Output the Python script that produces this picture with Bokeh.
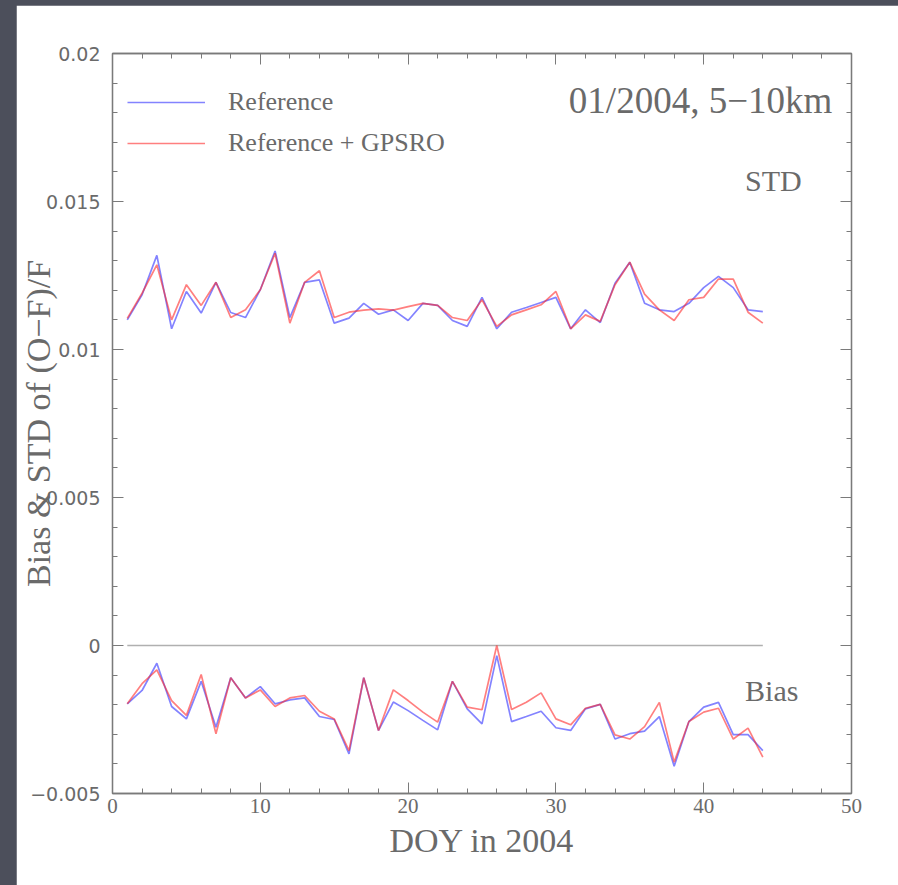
from bokeh.embed import file_html
from bokeh.layouts import column
from bokeh.models import (CustomJSTickFormatter, FixedTicker, Label, Legend,
                          LegendItem, LinearAxis, Range1d)
from bokeh.plotting import figure
from bokeh.resources import INLINE

# Day of year (January 2004)
days = list(range(1, 45))

# STD of (O-F)/F, 5-10 km
std_reference = [
    0.01100, 0.01185, 0.01318, 0.01070, 0.01196, 0.01123, 0.01227, 0.01125,
    0.01108, 0.01202, 0.01333, 0.01108, 0.01227, 0.01235, 0.01089, 0.01106,
    0.01156, 0.01119, 0.01134, 0.01098, 0.01156, 0.01149, 0.01098, 0.01078,
    0.01176, 0.01070, 0.01126, 0.01142, 0.01159, 0.01176, 0.01070, 0.01134,
    0.01091, 0.01224, 0.01295, 0.01156, 0.01134, 0.01128, 0.01156, 0.01209,
    0.01247, 0.01209, 0.01134, 0.01128,
]
std_gpsro = [
    0.01105, 0.01190, 0.01286, 0.01100, 0.01219, 0.01149, 0.01227, 0.01108,
    0.01134, 0.01202, 0.01325, 0.01089, 0.01227, 0.01266, 0.01108, 0.01126,
    0.01133, 0.01137, 0.01133, 0.01145, 0.01156, 0.01149, 0.01108, 0.01098,
    0.01168, 0.01078, 0.01117, 0.01134, 0.01151, 0.01196, 0.01070, 0.01117,
    0.01095, 0.01219, 0.01295, 0.01187, 0.01134, 0.01098, 0.01168, 0.01176,
    0.01238, 0.01238, 0.01126, 0.01089,
]

# Bias of (O-F)/F, 5-10 km
bias_reference = [
    -0.00197, -0.00152, -0.00060, -0.00206, -0.00248, -0.00121, -0.00276, -0.00109,
    -0.00177, -0.00139, -0.00197, -0.00184, -0.00177, -0.00240, -0.00250, -0.00366,
    -0.00109, -0.00287, -0.00191, -0.00220, -0.00253, -0.00285, -0.00121, -0.00214,
    -0.00265, -0.00034, -0.00257, -0.00240, -0.00222, -0.00278, -0.00287, -0.00214,
    -0.00199, -0.00316, -0.00298, -0.00289, -0.00240, -0.00408, -0.00257, -0.00208,
    -0.00192, -0.00301, -0.00301, -0.00355,
]
bias_gpsro = [
    -0.00197, -0.00129, -0.00082, -0.00186, -0.00236, -0.00098, -0.00298, -0.00109,
    -0.00177, -0.00150, -0.00206, -0.00177, -0.00169, -0.00222, -0.00248, -0.00355,
    -0.00109, -0.00287, -0.00150, -0.00186, -0.00225, -0.00259, -0.00121, -0.00208,
    -0.00217, 0.00000, -0.00216, -0.00192, -0.00160, -0.00248, -0.00268, -0.00212,
    -0.00199, -0.00302, -0.00316, -0.00274, -0.00192, -0.00394, -0.00257, -0.00225,
    -0.00212, -0.00316, -0.00279, -0.00377,
]

x_major = [0, 10, 20, 30, 40, 50]
x_minor = list(range(0, 51, 2))
y_major = [-0.005, 0.0, 0.005, 0.01, 0.015, 0.02]
y_minor = [round(-0.005 + 0.001 * i, 3) for i in range(26)]

series_labels = ["Reference", "Reference + GPSRO"]
panel_title = "01/2004, 5\u221210km"
x_title = "DOY in 2004"
y_title = "Bias & STD of (O\u2212F)/F"

INK = "#6a6a6a"
FRAME = "#7a7a7a"
SERIF = "Liberation Serif"

p = figure(
    width=882, height=880,
    x_range=Range1d(0, 50), y_range=Range1d(-0.005, 0.02),
    output_backend="svg", toolbar_location=None,
    min_border_left=96, min_border_right=47,
    min_border_top=48, min_border_bottom=92,
    background_fill_color="white", border_fill_color="white",
)
p.margin = (5, 0, 0, 16)
p.grid.visible = False
p.outline_line_color = FRAME
p.outline_line_width = 1.3

blank = CustomJSTickFormatter(code="return '';")
y_fmt = CustomJSTickFormatter(code="""
const a = Math.abs(tick) < 1e-12 ? 0 : +Math.abs(tick).toPrecision(6);
const s = String(a);
return tick < -1e-12 ? "\u2212" + s : s;
""")

p.add_layout(LinearAxis(), "above")
p.add_layout(LinearAxis(), "right")

for ax in p.xaxis:
    ax.ticker = FixedTicker(ticks=x_major, minor_ticks=x_minor)
for ax in p.yaxis:
    ax.ticker = FixedTicker(ticks=y_major, minor_ticks=y_minor)

for ax in p.axis:
    ax.axis_line_color = FRAME
    ax.axis_line_width = 1.3
    ax.major_tick_line_color = FRAME
    ax.minor_tick_line_color = FRAME
    ax.major_tick_in = 11
    ax.major_tick_out = 0
    ax.minor_tick_in = 5
    ax.minor_tick_out = 0

p.above[0].formatter = blank
p.right[0].formatter = blank

xb = p.below[0]
xb.major_label_text_font = SERIF
xb.major_label_text_font_size = "21px"
xb.major_label_text_color = INK
xb.major_label_standoff = 5
xb.axis_label = x_title
xb.axis_label_text_font = SERIF
xb.axis_label_text_font_style = "normal"
xb.axis_label_text_font_size = "34px"
xb.axis_label_text_color = INK
xb.axis_label_standoff = 6

yl = p.left[0]
yl.formatter = y_fmt
yl.major_label_text_font = "DejaVu Sans"
yl.major_label_text_font_size = "19px"
yl.major_label_text_color = INK
yl.major_label_standoff = 12
yl.axis_label = y_title
yl.axis_label_text_font = SERIF
yl.axis_label_text_font_style = "normal"
yl.axis_label_text_font_size = "34px"
yl.axis_label_text_color = INK
yl.axis_label_standoff = -30

# zero reference line across the observed days
p.line([days[0], days[-1]], [0, 0], line_color="#b0b0b0", line_width=1.6)

blue = "#3030ff"
red = "#ff2a2a"
r_sr = p.line(days, std_reference, line_color=blue, line_alpha=0.6, line_width=1.7)
p.line(days, bias_reference, line_color=blue, line_alpha=0.6, line_width=1.7)
r_sg = p.line(days, std_gpsro, line_color=red, line_alpha=0.6, line_width=1.7)
p.line(days, bias_gpsro, line_color=red, line_alpha=0.6, line_width=1.7)

legend = Legend(
    items=[LegendItem(label=series_labels[0], renderers=[r_sr]),
           LegendItem(label=series_labels[1], renderers=[r_sg])],
    location=(15, 635),
    border_line_alpha=0, background_fill_alpha=0,
    padding=0, margin=0, spacing=11,
    glyph_width=78, glyph_height=30, label_height=30,
    label_standoff=23,
    label_text_font=SERIF, label_text_font_size="26px",
    label_text_color=INK,
)
p.add_layout(legend, "center")

p.add_layout(Label(x=48.7, y=0.01841, text=panel_title, text_align="right",
                   text_baseline="middle", text_font=SERIF,
                   text_font_size="37px", text_color=INK))
p.add_layout(Label(x=42.8, y=0.01571, text="STD", text_align="left",
                   text_baseline="middle", text_font=SERIF,
                   text_font_size="30px", text_color=INK))
p.add_layout(Label(x=42.8, y=-0.00152, text="Bias", text_align="left",
                   text_baseline="middle", text_font=SERIF,
                   text_font_size="30px", text_color=INK))

page = column(p, styles={"background-color": "#4c4f5b"})

open("out.html", "w").write(file_html(page, INLINE))
